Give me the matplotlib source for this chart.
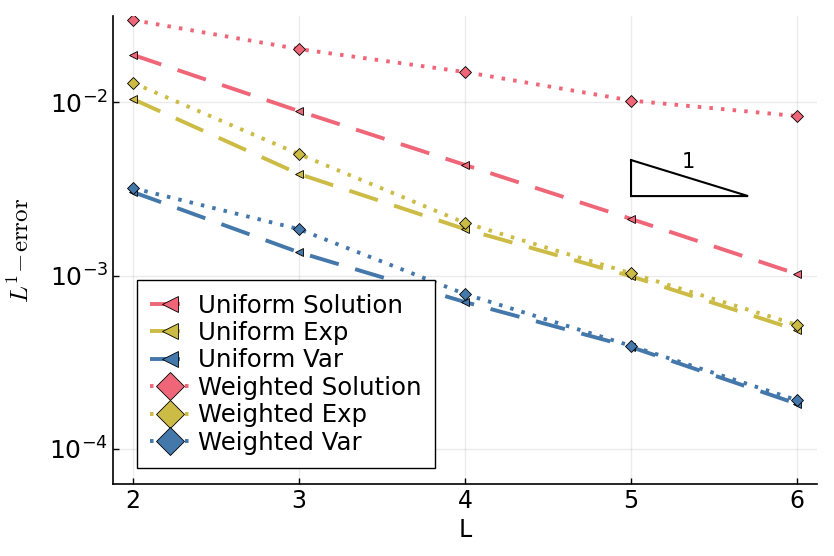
import matplotlib
matplotlib.use("Agg")
import matplotlib.pyplot as plt
from matplotlib.ticker import LogLocator, NullLocator

L = [2, 3, 4, 5, 6]
uniform_solution = [0.0187, 0.00887, 0.00434, 0.00212, 0.00102]
uniform_exp = [0.0104, 0.00385, 0.00185, 0.00099, 0.000485]
uniform_var = [0.00303, 0.00136, 0.000703, 0.000387, 0.000182]
weighted_solution = [0.0297, 0.0202, 0.0149, 0.0102, 0.0083]
weighted_exp = [0.0129, 0.00501, 0.00201, 0.00103, 0.000519]
weighted_var = [0.00319, 0.00185, 0.000782, 0.000393, 0.000191]

tri_x = [5, 5, 5.705, 5]
tri_y = [0.00463, 0.00287, 0.00287, 0.00463]
tri_label = "1"

labels = ["Uniform Solution", "Uniform Exp", "Uniform Var",
          "Weighted Solution", "Weighted Exp", "Weighted Var"]
colors = ["#EE6677", "#CCBB44", "#4477AA"]

plt.rcParams['mathtext.fontset'] = 'cm'
fig = plt.figure(figsize=(8.34, 5.56), dpi=100)
ax = fig.add_axes([0.1355, 0.1295, 0.9796 - 0.1355, 0.9712 - 0.1295])

lw = 2.8
uni = [uniform_solution, uniform_exp, uniform_var]
wei = [weighted_solution, weighted_exp, weighted_var]
for i, ys in enumerate(uni):
    ax.plot(L, ys, color=colors[i], lw=lw, dashes=(7.7, 4.4), dash_capstyle='butt',
            marker='<', ms=5.5, mfc=colors[i], mec='black', mew=0.6, label=labels[i])
for i, ys in enumerate(wei):
    ax.plot(L, ys, color=colors[i], lw=lw, dashes=(0.9, 2.1), dash_capstyle='butt',
            marker='D', ms=6.6, mfc=colors[i], mec='black', mew=0.6, label=labels[3 + i])

ax.plot(tri_x, tri_y, color='black', lw=1.5, solid_joinstyle='miter')
ax.text(5.343, 0.00451, tri_label, fontsize=15, ha='center', va='center')

ax.set_yscale('log')
ax.set_xlim(1.88, 6.12)
ax.set_ylim(10 ** -4.202, 10 ** -1.504)
ax.set_xticks(L)
ax.yaxis.set_major_locator(LogLocator(base=10, numticks=10))
ax.yaxis.set_minor_locator(NullLocator())
ax.grid(True, color='black', alpha=0.08, lw=1)
for s in ['top', 'right']:
    ax.spines[s].set_visible(False)
for s in ['left', 'bottom']:
    ax.spines[s].set_linewidth(1.2)
ax.tick_params(direction='in', length=4, width=1)
ax.tick_params(axis='x', labelsize=17)
ax.tick_params(axis='y', labelsize=18)
ax.set_xlabel("L", fontsize=17)
ax.set_ylabel(r"$L^1\!-\!\mathrm{error}$", fontsize=18)
ax.yaxis.set_label_coords(-0.112, 0.5)

leg = ax.legend(loc='lower left', bbox_to_anchor=(0.034, 0.034), borderaxespad=0,
                fontsize=17.6, markerscale=2.2, fancybox=False, framealpha=1,
                edgecolor='black', labelspacing=0.14, handlelength=1.6,
                handletextpad=0.33, borderpad=0.55)
leg.get_frame().set_linewidth(1.0)

fig.savefig("out.png", dpi=100)
